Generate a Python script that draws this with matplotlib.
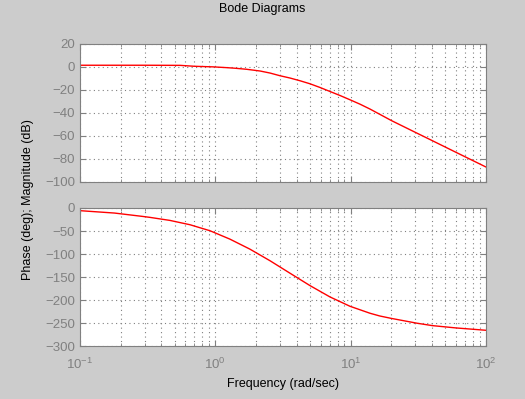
import numpy as np
import matplotlib
matplotlib.use("Agg")
import matplotlib.pyplot as plt
from matplotlib.ticker import LogLocator, NullFormatter

# values
mag_freq = [0.1, 0.3, 0.55, 0.7, 0.96, 1.22, 1.4, 1.7, 2.14, 2.54, 3.0, 3.56,
            4.23, 5.0, 5.93, 7.03, 8.34, 9.88, 11.7, 13.9, 16.2, 20.0, 30.0,
            40.0, 60.0, 100.0]
mag_db = [1.5, 1.5, 1.4, 0.6, 0.1, -0.6, -1.1, -2.0, -3.5, -5.3, -7.6, -9.6,
          -12.0, -14.6, -17.8, -21.3, -24.8, -28.5, -32.3, -36.6, -40.8,
          -46.6, -56.8, -64.0, -74.2, -87.0]

phase_freq = [0.1, 0.18, 0.29, 0.329, 0.462, 0.65, 0.914, 1.28, 1.8, 2.54,
              3.56, 5.0, 7.03, 9.88, 13.9, 16.4, 20.0, 31.0, 40.0, 60.0, 100.0]
phase_deg = [-5.8, -11.0, -18.3, -20.4, -27.0, -36.4, -49.5, -67.6, -89.4,
             -114.8, -141.7, -168.6, -193.3, -213.6, -228.8, -234.7, -240.0,
             -250.5, -255.6, -260.7, -265.8]

bg = "#cccccc"
gray = "#808080"

plt.rcParams['font.family'] = ['Liberation Sans', 'DejaVu Sans']
plt.rcParams['mathtext.default'] = 'regular'
plt.rcParams['font.size'] = 8

fig = plt.figure(figsize=(5.25, 3.99), dpi=100, facecolor=bg)
ax1 = fig.add_axes([0.1524, 0.5439, 0.7733, 0.3459])
ax2 = fig.add_axes([0.1524, 0.1328, 0.7733, 0.3459])


def style_axis(ax):
    ax.set_xscale("log")
    ax.set_xlim(0.1, 100)
    ax.xaxis.set_major_locator(LogLocator(base=10))
    ax.xaxis.set_minor_locator(LogLocator(base=10, subs=np.arange(2, 10)))
    ax.xaxis.set_minor_formatter(NullFormatter())
    ax.grid(True, which="major", axis="both", color=gray, linestyle=(0, (1, 3)), linewidth=0.8)
    ax.grid(True, which="minor", axis="x", color=gray, linestyle=(0, (1, 3)), linewidth=0.8)
    ax.tick_params(which="both", direction="in", colors=gray, top=True, right=True,
                   labelsize=9.5)
    ax.tick_params(which="major", length=4)
    ax.tick_params(which="minor", length=2.5)
    for s in ax.spines.values():
        s.set_color(gray)


ax1.plot(mag_freq, mag_db, color="red", linewidth=1)
style_axis(ax1)
ax1.set_ylim(-100, 20)
ax1.set_yticks([20, 0, -20, -40, -60, -80, -100])
ax1.set_yticklabels(["20", "0", "\u221220", "\u221240", "\u221260", "\u221280", "\u2212100"])
ax1.tick_params(labelbottom=False)

ax2.plot(phase_freq, phase_deg, color="red", linewidth=1)
style_axis(ax2)
ax2.set_ylim(-300, 0)
ax2.set_yticks([0, -50, -100, -150, -200, -250, -300])
ax2.set_yticklabels(["0", "\u221250", "\u2212100", "\u2212150", "\u2212200", "\u2212250", "\u2212300"])
ax2.tick_params(axis="x", pad=8)
ax2.set_xlabel("Frequency (rad/sec)", color="black", fontsize=9)

fig.text(0.5, 0.978, "Bode Diagrams", ha="center", va="center", fontsize=9)
fig.text(0.053, 0.5, "Phase (deg); Magnitude (dB)", ha="center", va="center",
         rotation=90, fontsize=9)

fig.savefig("out.png", dpi=100, facecolor=bg)
